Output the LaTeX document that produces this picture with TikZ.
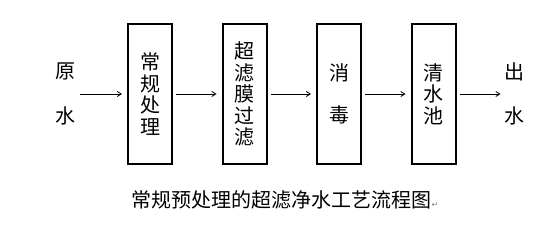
\documentclass[tikz,border=0pt]{standalone}
\usepackage{fontspec}
\newfontfamily\cjk{Noto Sans CJK SC}
\newfontfamily\dejavu{DejaVu Sans}
\usetikzlibrary{arrows.meta,positioning}

\begin{document}
\begin{tikzpicture}[
			x=1pt, y=1pt,
			font=\cjk\fontsize{20}{21.5}\selectfont,
			stage/.style={
					draw, line width=2pt,
					minimum width=44pt, minimum height=140pt,
					inner sep=0pt, align=center
				},
			side/.style={align=center, inner sep=1pt},
			msg/.style={-{Straight Barb[length=4pt,width=5pt]}, line width=0.8pt,
					shorten <=3pt, shorten >=5pt},
			node distance=48.5pt
		]
		\useasboundingbox (0,0) rectangle (549,231);

		% Stages
		\node[stage] (pre) at (150,137) {常\\规\\处\\理};
		\node[stage, right=of pre] (uf) {超\\滤\\膜\\过\\滤};
		\node[stage, right=of uf] (dis) {消\\[21pt]毒};
		\node[stage, right=of dis] (tank) {清\\水\\池};

		% Raw water in, product water out
		\node[side, left=50pt of pre] (raw) {原\\[23pt]水};
		\node[side, right=47pt of tank] (out) {出\\[23pt]水};

		% Flow
		\draw[msg] (raw) -- (pre);
		\draw[msg] (pre) -- (uf);
		\draw[msg] (uf) -- (dis);
		\draw[msg] (dis) -- (tank);
		\draw[msg, shorten >=3pt] (tank) -- (out);

		% Caption
		\node[font=\cjk\fontsize{20}{22}\selectfont] (caption) at (285,31)
		{常规预处理的超滤净水工艺流程图{\dejavu\color{gray}\fontsize{8}{8}\selectfont ↵}};

	\end{tikzpicture}
\end{document}
